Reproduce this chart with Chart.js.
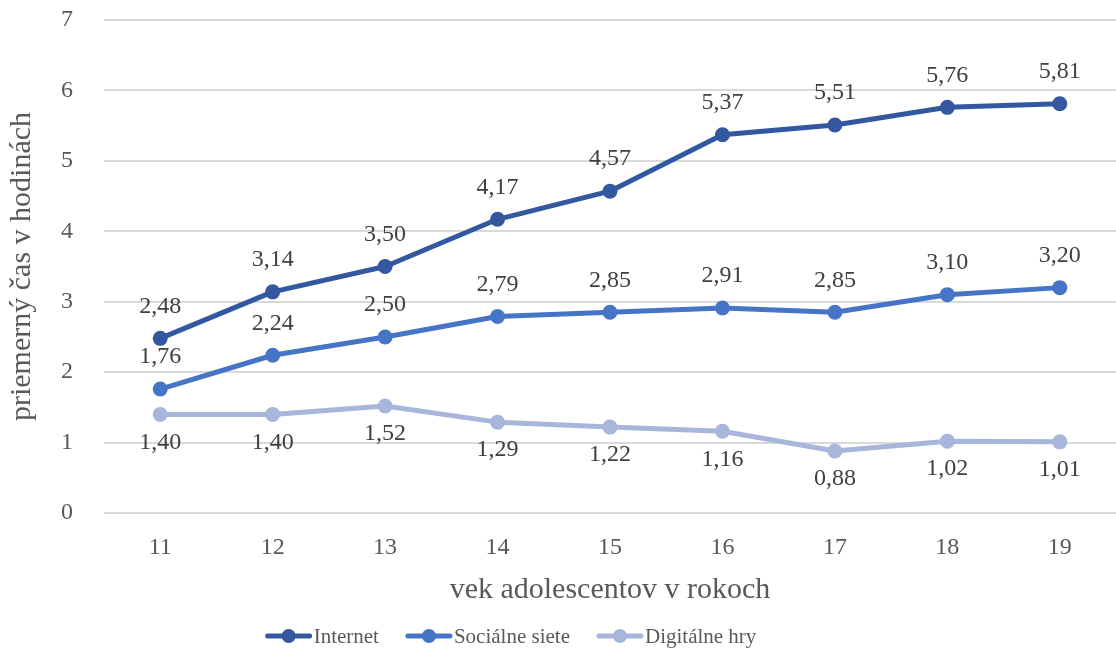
<!DOCTYPE html>
<html>
<head>
<meta charset="utf-8">
<script src="https://cdn.jsdelivr.net/npm/chart.js@4.4.1/dist/chart.umd.min.js"></script>
<style>
  html, body { margin: 0; padding: 0; background: #fff; overflow: hidden; }
  #wrap { width: 1116px; height: 652px; position: relative; }
</style>
</head>
<body>
<div id="wrap"><canvas id="ageChart"></canvas></div>
<script>
const ages = ['11', '12', '13', '14', '15', '16', '17', '18', '19'];
const internet = [2.48, 3.14, 3.50, 4.17, 4.57, 5.37, 5.51, 5.76, 5.81];
const socialne = [1.76, 2.24, 2.50, 2.79, 2.85, 2.91, 2.85, 3.10, 3.20];
const hry = [1.40, 1.40, 1.52, 1.29, 1.22, 1.16, 0.88, 1.02, 1.01];

const FONT = "'Liberation Serif', 'DejaVu Serif', serif";
const TEXT = '#595959';

// labels above / below the points, Excel style
const valueLabels = {
    id: 'valueLabels',
    afterDatasetsDraw(chart) {
        const ctx = chart.ctx;
        ctx.save();
        ctx.font = '24px ' + FONT;
        ctx.fillStyle = '#404040';
        ctx.textAlign = 'center';
        ctx.textBaseline = 'middle';
        chart.data.datasets.forEach((ds, i) => {
            const meta = chart.getDatasetMeta(i);
            meta.data.forEach((pt, j) => {
                const txt = ds.data[j].toFixed(2).replace('.', ',');
                ctx.fillText(txt, pt.x, pt.y + ds.labelOffset);
            });
        });
        ctx.restore();
    }
};

// line + dot legend under the axis title
const lineLegend = {
    id: 'lineLegend',
    afterDraw(chart) {
        const ctx = chart.ctx;
        const y = 636;
        const mark = 46, gap = 2, space = 27;
        ctx.save();
        ctx.font = '21px ' + FONT;
        ctx.textBaseline = 'middle';
        ctx.textAlign = 'left';
        const items = chart.data.datasets.map(ds => ({
            ds, w: mark + gap + ctx.measureText(ds.label).width
        }));
        const total = items.reduce((s, it) => s + it.w, 0) + space * (items.length - 1);
        let x = 511 - total / 2;
        items.forEach(it => {
            ctx.strokeStyle = it.ds.borderColor;
            ctx.lineWidth = 5;
            ctx.lineCap = 'round';
            ctx.beginPath();
            ctx.moveTo(x + 2, y);
            ctx.lineTo(x + mark - 2, y);
            ctx.stroke();
            ctx.fillStyle = it.ds.borderColor;
            ctx.beginPath();
            ctx.arc(x + mark / 2, y, 7, 0, Math.PI * 2);
            ctx.fill();
            ctx.fillStyle = TEXT;
            ctx.fillText(it.ds.label, x + mark + gap, y + 1);
            x += it.w + space;
        });
        ctx.restore();
    }
};

const ctx = document.getElementById('ageChart');

new Chart(ctx, {
    type: 'line',
    data: {
        labels: ages,
        datasets: [{
            label: 'Internet',
            data: internet,
            borderColor: '#3358A0',
            backgroundColor: '#3358A0',
            labelOffset: -32
        }, {
            label: 'Sociálne siete',
            data: socialne,
            borderColor: '#4674C6',
            backgroundColor: '#4674C6',
            labelOffset: -32
        }, {
            label: 'Digitálne hry',
            data: hry,
            borderColor: '#A8B6DC',
            backgroundColor: '#A8B6DC',
            labelOffset: 28
        }]
    },
    options: {
        responsive: true,
        maintainAspectRatio: false,
        animation: false,
        datasets: {
            line: {
                borderWidth: 5,
                pointRadius: 7.5,
                pointHoverRadius: 7.5,
                pointBorderWidth: 0,
                tension: 0,
                borderCapStyle: 'round',
                borderJoinStyle: 'round',
                clip: false
            }
        },
        layout: {
            autoPadding: false,
            padding: { top: 20, right: 0, bottom: 44, left: 0 }
        },
        plugins: {
            legend: { display: false },
            tooltip: { enabled: false }
        },
        scales: {
            x: {
                offset: true,
                grid: { display: false, drawTicks: false },
                border: { display: false },
                ticks: {
                    padding: 20,
                    color: TEXT,
                    font: { family: FONT, size: 24 }
                },
                title: {
                    display: true,
                    text: 'vek adolescentov v rokoch',
                    color: TEXT,
                    padding: { top: 0, bottom: 0 },
                    font: { family: FONT, size: 30 }
                },
                afterFit(scale) {
                    scale.height = 95;
                    scale.paddingLeft = 0;
                    scale.paddingRight = 0;
                }
            },
            y: {
                min: 0,
                max: 7,
                ticks: {
                    stepSize: 1,
                    padding: 31,
                    color: TEXT,
                    font: { family: FONT, size: 24 }
                },
                grid: { color: '#D9D9D9', lineWidth: 2, drawTicks: false },
                border: { display: false },
                title: {
                    display: true,
                    text: 'priemerný čas v hodinách',
                    color: TEXT,
                    padding: { top: 4, bottom: 0 },
                    font: { family: FONT, size: 30 }
                },
                afterFit(scale) {
                    scale.width = 104;
                    scale.paddingTop = 0;
                    scale.paddingBottom = 0;
                }
            }
        }
    },
    plugins: [valueLabels, lineLegend]
});
</script>
</body>
</html>
